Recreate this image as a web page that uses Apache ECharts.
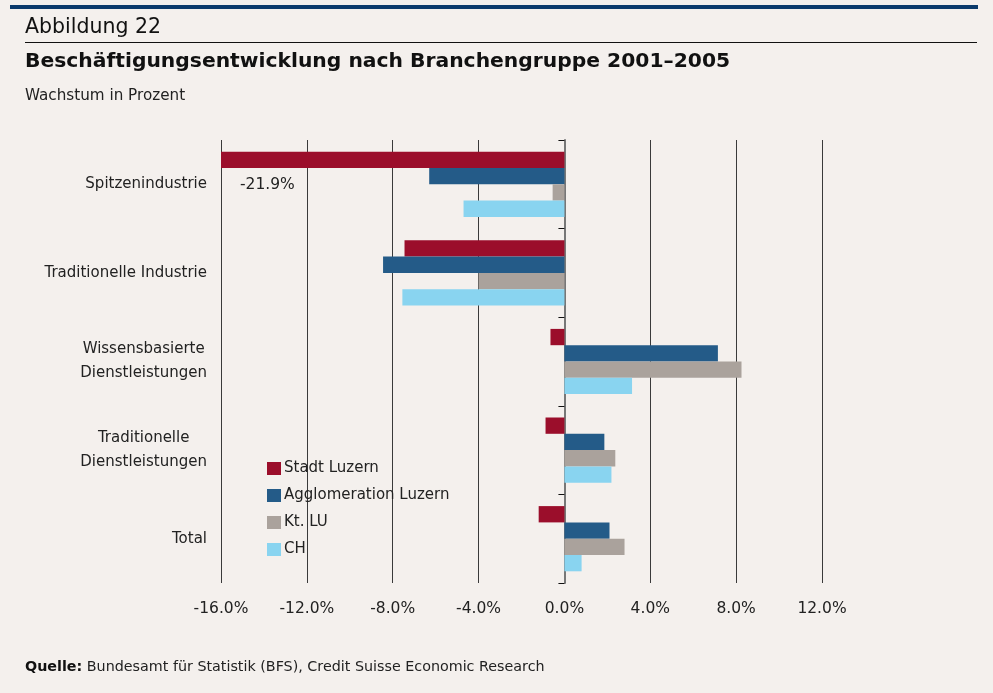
<!DOCTYPE html>
<html><head><meta charset="utf-8">
<script src="https://cdn.jsdelivr.net/npm/echarts@6/dist/echarts.min.js"></script>
<style>html,body{margin:0;padding:0;background:#f4f0ed;}#c{width:993px;height:693px;}</style>
</head><body><div id="c"></div>
<script>
const categories = ['Spitzenindustrie', 'Traditionelle Industrie', 'Wissensbasierte\nDienstleistungen', 'Traditionelle\nDienstleistungen', 'Total'];
const stadtLuzern = [-21.9, -7.45, -0.65, -0.88, -1.2];
const agglomerationLuzern = [-6.3, -8.45, 7.15, 1.86, 2.1];
const ktLU = [-0.55, -4.0, 8.25, 2.37, 2.8];
const ch = [-4.7, -7.55, 3.15, 2.19, 0.8];
const seriesNames = ['Stadt Luzern', 'Agglomeration Luzern', 'Kt. LU', 'CH'];
const xTicks = [-16, -12, -8, -4, 0, 4, 8, 12];

const colors = ['#9b0e2b', '#245b88', '#aaa29c', '#89d4f0'];
const FONT = '"DejaVu Sans", "Liberation Sans", Arial, sans-serif';
const chart = echarts.init(document.getElementById('c'));
const allData = [stadtLuzern, agglomerationLuzern, ktLU, ch];

chart.setOption({
  backgroundColor: '#f4f0ed',
  animation: false,
  color: colors,
  textStyle: { fontFamily: FONT, color: '#222' },
  title: [
    { text: 'Abbildung 22', left: 25, top: 17, padding: 0, textStyle: { fontSize: 20.5, fontWeight: 'normal', color: '#111', fontFamily: FONT } },
    { text: 'Beschäftigungsentwicklung nach Branchengruppe 2001–2005', left: 25, top: 52, padding: 0, textStyle: { fontSize: 20.3, fontWeight: 'bold', color: '#111', fontFamily: FONT } },
    { text: 'Wachstum in Prozent', left: 25, top: 89, padding: 0, textStyle: { fontSize: 15.2, fontWeight: 'normal', color: '#222', fontFamily: FONT } },
    { text: '{b|Quelle:} Bundesamt für Statistik (BFS), Credit Suisse Economic Research', left: 25, top: 660, padding: 0,
      textStyle: { fontSize: 14.3, fontWeight: 'normal', color: '#222', fontFamily: FONT, rich: { b: { fontWeight: 'bold', fontSize: 14.3, color: '#111', fontFamily: FONT } } } },
    { text: stadtLuzern[0].toFixed(1) + '%', left: 240, top: 177, padding: 0, textStyle: { fontSize: 15.5, fontWeight: 'normal', color: '#222', fontFamily: FONT } }
  ],
  graphic: [
    { type: 'rect', shape: { x: 10, y: 5, width: 968, height: 4 }, style: { fill: '#0b3a6b' }, silent: true },
    { type: 'line', shape: { x1: 25, y1: 42.5, x2: 977, y2: 42.5 }, style: { stroke: '#111', lineWidth: 1 }, silent: true }
  ],
  legend: {
    orient: 'vertical', left: 267, top: 461, padding: 0,
    itemWidth: 14, itemHeight: 13, itemGap: 12,
    icon: 'rect',
    data: seriesNames,
    textStyle: { fontSize: 15, color: '#222', lineHeight: 15, padding: [0, 0, 0, -2], fontFamily: FONT }
  },
  grid: { left: 221, right: 171, top: 140, height: 443, containLabel: false },
  xAxis: {
    type: 'value', min: xTicks[0], max: xTicks[xTicks.length - 1], interval: 4,
    axisLine: { show: false }, axisTick: { show: false },
    splitLine: { show: true, lineStyle: { color: '#3a3a3a', width: 1 } },
    axisLabel: { margin: 18, fontSize: 15.5, color: '#222', formatter: v => v.toFixed(1) + '%' }
  },
  yAxis: [
    {
      type: 'category', data: categories, inverse: true,
      axisLine: { show: false, onZero: false }, axisTick: { show: false },
      axisLabel: {
        margin: 14, fontSize: 15, color: '#222', lineHeight: 24,
        formatter: v => v.split('\n').map(s => '{c|' + s + '}').join('\n'),
        rich: { c: { align: 'center', fontSize: 15, lineHeight: 24, color: '#222', fontFamily: FONT } }
      }
    },
    {
      type: 'category', data: categories, inverse: true, position: 'left',
      axisLine: { show: true, onZero: true, lineStyle: { color: '#777', width: 2 } },
      axisTick: { show: true, length: 6, lineStyle: { color: '#111', width: 1 } },
      axisLabel: { show: false }
    }
  ],
  series: seriesNames.map((name, i) => ({
    name, type: 'bar', yAxisIndex: 0, data: allData[i],
    barWidth: 16.3, barGap: '0%', clip: true,
    itemStyle: { color: colors[i] }
  }))
});
</script></body></html>
